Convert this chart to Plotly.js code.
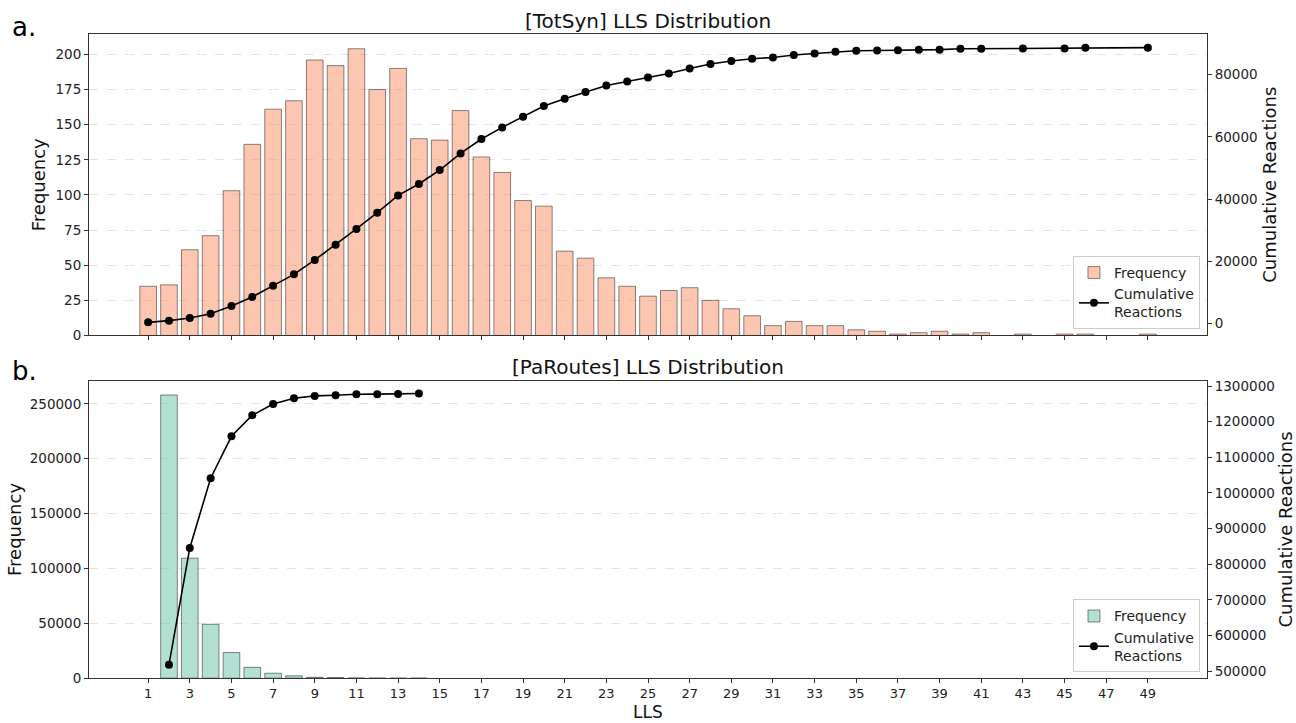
<!DOCTYPE html>
<html>
<head>
<meta charset="utf-8">
<script src="https://cdn.plot.ly/plotly-3.0.1.min.js"></script>
<style>html,body{margin:0;padding:0;background:#fff;}#chart{width:1296px;height:723px;}</style>
</head>
<body>
<div id="chart"></div>
<script>
// ---- Data ----
// (a) TotSyn: LLS values with non-zero frequency
const totsynLLS = [1,2,3,4,5,6,7,8,9,10,11,12,13,14,15,16,17,18,19,20,21,22,23,24,25,26,27,28,29,30,31,32,33,34,35,36,37,38,39,40,41,43,45,46,49];
const totsynFreq = [35,36,61,71,103,136,161,167,196,192,204,175,190,140,139,160,127,116,96,92,60,55,41,35,28,32,34,25,19,14,7,10,7,7,4,3,1,2,3,1,2,1,1,1,1];
const totsynCum = [420,960,1830,3210,5690,8580,12210,15840,20470,25380,30430,35660,41220,44880,49380,54720,59340,63070,66510,69940,72290,74440,76560,77850,79130,80420,82020,83440,84400,85140,85560,86330,86840,87390,87710,87810,87850,88030,88060,88350,88380,88400,88430,88670,88700];

// (b) PaRoutes
const parLLS = [2,3,4,5,6,7,8,9,10,11,12,13,14];
const parFreq = [258000,109300,49100,23350,9900,4500,2150,800,500,200,100,50,20];
const parCum = [518000,845700,1041200,1159000,1218200,1249400,1266000,1272400,1274300,1277100,1277300,1277500,1279000];

// x tick labels (odd LLS values)
const llsTicks = [1,3,5,7,9,11,13,15,17,19,21,23,25,27,29,31,33,35,37,39,41,43,45,47,49];

const titles = ['[TotSyn] LLS Distribution', '[PaRoutes] LLS Distribution'];
const panelLabels = ['a.', 'b.'];
const xTitle = 'LLS';

// ---- Styles ----
const FONT = 'DejaVu Sans, Liberation Sans, sans-serif';
const tickFont = {family: FONT, size: 13.5, color: '#222'};
const xTickFont = {family: FONT, size: 13, color: '#222'};
const titleFont = {family: FONT, size: 18, color: '#111'};
const axisLine = {showline: true, linecolor: '#333', linewidth: 1, ticks: 'outside', ticklen: 4, tickcolor: '#333', zeroline: false};

const traces = [
  {type: 'bar', x: totsynLLS, y: totsynFreq, xaxis: 'x', yaxis: 'y', name: 'Frequency', width: 0.8,
   marker: {color: 'rgba(252,141,98,0.5)', line: {color: 'rgba(0,0,0,0.45)', width: 1}}, legend: 'legend'},
  {type: 'scatter', mode: 'lines+markers', x: totsynLLS, y: totsynCum, xaxis: 'x', yaxis: 'y2', name: 'Cumulative<br>Reactions',
   line: {color: '#000', width: 1.6}, marker: {color: '#000', size: 8}, legend: 'legend'},
  {type: 'bar', x: parLLS, y: parFreq, xaxis: 'x2', yaxis: 'y3', name: 'Frequency', width: 0.8,
   marker: {color: 'rgba(102,194,165,0.5)', line: {color: 'rgba(0,0,0,0.45)', width: 1}}, legend: 'legend2'},
  {type: 'scatter', mode: 'lines+markers', x: parLLS, y: parCum, xaxis: 'x2', yaxis: 'y4', name: 'Cumulative<br>Reactions',
   line: {color: '#000', width: 1.6}, marker: {color: '#000', size: 8}, legend: 'legend2'}
];

const xr = [-1.84, 51.84];
const gridStyle = {showgrid: true, gridcolor: 'rgba(0,0,0,0.13)', griddash: 'dash', gridwidth: 0.8};

const layout = {
  width: 1296, height: 723,
  margin: {l: 89, r: 89, t: 0, b: 0},
  paper_bgcolor: '#fff', plot_bgcolor: '#fff',
  showlegend: true,
  bargap: 0,
  xaxis: Object.assign({}, axisLine, {domain: [0, 1], anchor: 'y', range: xr, tickmode: 'array', tickvals: llsTicks,
    showticklabels: false, showgrid: false, mirror: true}),
  xaxis2: Object.assign({}, axisLine, {domain: [0, 1], anchor: 'y3', range: xr, tickmode: 'array', tickvals: llsTicks,
    ticktext: llsTicks.map(String), showgrid: false, mirror: true, tickfont: xTickFont, ticklen: 3.5}),
  yaxis: Object.assign({}, axisLine, gridStyle, {domain: [0.536, 0.953], anchor: 'x', range: [0, 214.5], dtick: 25, tickfont: tickFont,
    title: {text: 'Frequency', font: titleFont, standoff: 5}}),
  yaxis2: Object.assign({}, axisLine, {overlaying: 'y', side: 'right', anchor: 'x', range: [-3800, 93100], dtick: 20000, tickformat: 'd',
    showgrid: false, tickfont: tickFont, title: {text: 'Cumulative Reactions', font: titleFont, standoff: 6}}),
  yaxis3: Object.assign({}, axisLine, gridStyle, {domain: [0.062, 0.4734], anchor: 'x2', range: [0, 271000], dtick: 50000, tickformat: 'd',
    tickfont: tickFont, title: {text: 'Frequency', font: titleFont, standoff: 3}}),
  yaxis4: Object.assign({}, axisLine, {overlaying: 'y3', side: 'right', anchor: 'x2', range: [480000, 1315000], dtick: 100000, tickformat: 'd',
    showgrid: false, tickfont: tickFont, title: {text: 'Cumulative Reactions', font: titleFont, standoff: 4}}),
  legend: {x: 0.9937, xanchor: 'right', y: 0.545, yanchor: 'bottom', bgcolor: 'rgba(255,255,255,0.85)', bordercolor: '#ccc', borderwidth: 1,
    font: {family: FONT, size: 14, color: '#222'}, traceorder: 'normal'},
  legend2: {x: 0.9937, xanchor: 'right', y: 0.07, yanchor: 'bottom', bgcolor: 'rgba(255,255,255,0.85)', bordercolor: '#ccc', borderwidth: 1,
    font: {family: FONT, size: 14, color: '#222'}, traceorder: 'normal'},
  annotations: [
    {text: titles[0], xref: 'paper', yref: 'paper', x: 0.5, y: 0.971, xanchor: 'center', yanchor: 'middle', showarrow: false,
     font: {family: FONT, size: 20, color: '#111'}},
    {text: titles[1], xref: 'paper', yref: 'paper', x: 0.5, y: 0.4924, xanchor: 'center', yanchor: 'middle', showarrow: false,
     font: {family: FONT, size: 20, color: '#111'}},
    {text: xTitle, xref: 'paper', yref: 'paper', x: 0.5, y: 0, xanchor: 'center', yanchor: 'bottom', yshift: -1, showarrow: false,
     font: {family: FONT, size: 17, color: '#111'}},
    {text: panelLabels[0], xref: 'paper', yref: 'paper', x: -0.0707, y: 0.962, xanchor: 'left', yanchor: 'middle', showarrow: false,
     font: {family: FONT, size: 26, color: '#000'}},
    {text: panelLabels[1], xref: 'paper', yref: 'paper', x: -0.0707, y: 0.487, xanchor: 'left', yanchor: 'middle', showarrow: false,
     font: {family: FONT, size: 26, color: '#000'}}
  ]
};

Plotly.newPlot('chart', traces, layout, {displayModeBar: false, staticPlot: true});
</script>
</body>
</html>
